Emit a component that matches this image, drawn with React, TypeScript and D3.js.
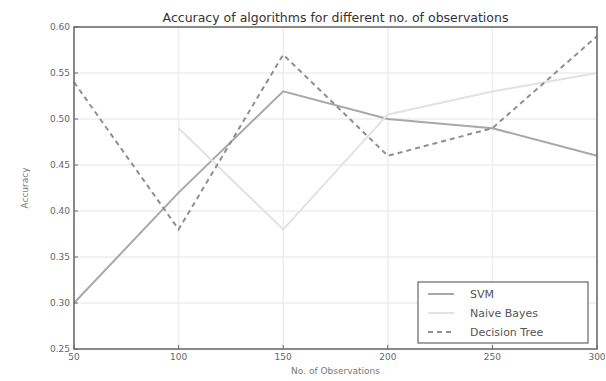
import React from "react";
import * as d3 from "d3";

const observations: number[] = [50, 100, 150, 200, 250, 300];
const svmAccuracy: (number | null)[] = [0.30, 0.42, 0.53, 0.50, 0.49, 0.46];
const naiveBayesAccuracy: (number | null)[] = [null, 0.49, 0.38, 0.505, 0.53, 0.55];
const decisionTreeAccuracy: (number | null)[] = [0.54, 0.38, 0.57, 0.46, 0.49, 0.59];
const yTicks: number[] = [0.25, 0.3, 0.35, 0.4, 0.45, 0.5, 0.55, 0.6];
const xTicks: number[] = [50, 100, 150, 200, 250, 300];

const W = 606;
const H = 381;
const M = { left: 74, right: 9, top: 27, bottom: 32 };

const x = d3.scaleLinear().domain([50, 300]).range([M.left, W - M.right]);
const y = d3.scaleLinear().domain([0.25, 0.6]).range([H - M.bottom, M.top]);

type Series = { name: string; values: (number | null)[]; stroke: string; width: number; dash?: string };

const series: Series[] = [
  { name: "SVM", values: svmAccuracy, stroke: "#a8a8a8", width: 2 },
  { name: "Naive Bayes", values: naiveBayesAccuracy, stroke: "#e2e2e2", width: 2 },
  { name: "Decision Tree", values: decisionTreeAccuracy, stroke: "#8f8f8f", width: 2, dash: "5,4" },
];

const lineGen = d3
  .line<[number, number | null]>()
  .defined((d) => d[1] !== null)
  .x((d) => x(d[0]))
  .y((d) => y(d[1] as number));

export default function App() {
  const font = "'DejaVu Sans', sans-serif";
  const legendX = 418;
  const legendY = 282;
  return (
    <svg
      width={W}
      height={H}
      style={{ position: "absolute", left: 0, top: 0, background: "#fff" }}
      fontFamily={font}
    >
      {/* grid */}
      {yTicks.map((t) => (
        <line key={"gy" + t} x1={M.left} x2={W - M.right} y1={y(t)} y2={y(t)} stroke="#eeeeee" strokeWidth={1.5} />
      ))}
      {xTicks.map((t) => (
        <line key={"gx" + t} x1={x(t)} x2={x(t)} y1={M.top} y2={H - M.bottom} stroke="#eeeeee" strokeWidth={1.5} />
      ))}

      {/* series lines */}
      {series.map((s) => (
        <path
          key={s.name}
          d={lineGen(observations.map((o, i) => [o, s.values[i]] as [number, number | null])) || ""}
          fill="none"
          stroke={s.stroke}
          strokeWidth={s.width}
          strokeDasharray={s.dash}
        />
      ))}

      {/* frame */}
      <rect
        x={M.left}
        y={M.top}
        width={W - M.left - M.right}
        height={H - M.top - M.bottom}
        fill="none"
        stroke="#666"
        strokeWidth={1.5}
      />

      {/* y ticks */}
      {yTicks.map((t) => (
        <g key={"yt" + t}>
          <line x1={M.left} x2={M.left + 4} y1={y(t)} y2={y(t)} stroke="#666" />
          <text x={M.left - 4} y={y(t)} dy="0.35em" textAnchor="end" fontSize={9} fill="#666">
            {t.toFixed(2)}
          </text>
        </g>
      ))}

      {/* x ticks */}
      {xTicks.map((t) => (
        <g key={"xt" + t}>
          <line x1={x(t)} x2={x(t)} y1={H - M.bottom} y2={H - M.bottom - 4} stroke="#666" />
          <text x={x(t)} y={H - M.bottom + 11} textAnchor="middle" fontSize={9} fill="#666">
            {t}
          </text>
        </g>
      ))}

      {/* titles */}
      <text x={(M.left + W - M.right) / 2} y={22} textAnchor="middle" fontSize={12.5} fill="#333">
        Accuracy of algorithms for different no. of observations
      </text>
      <text x={(M.left + W - M.right) / 2} y={374} textAnchor="middle" fontSize={9} fill="#777">
        No. of Observations
      </text>
      <text
        transform={`translate(28,${(M.top + H - M.bottom) / 2}) rotate(-90)`}
        textAnchor="middle"
        fontSize={9}
        fill="#777"
      >
        Accuracy
      </text>

      {/* legend */}
      <rect x={legendX} y={legendY} width={170} height={61} fill="#fff" stroke="#666" strokeWidth={1.2} />
      {series.map((s, i) => (
        <g key={"lg" + s.name} transform={`translate(${legendX + 10},${legendY + 12 + i * 19})`}>
          <line x1={0} x2={26} y1={0} y2={0} stroke={s.stroke} strokeWidth={s.width} strokeDasharray={s.dash} />
          <text x={42} y={0} dy="0.35em" fontSize={11} fill="#555">
            {s.name}
          </text>
        </g>
      ))}
    </svg>
  );
}
